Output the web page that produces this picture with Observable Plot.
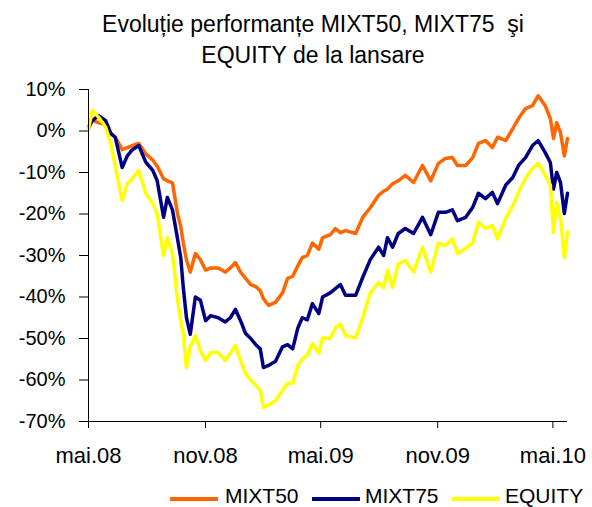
<!DOCTYPE html>
<html>
<head>
<meta charset="utf-8">
<script src="https://cdn.jsdelivr.net/npm/d3@7"></script>
<script src="https://cdn.jsdelivr.net/npm/@observablehq/plot@0.6"></script>
<style>
  html, body { margin: 0; padding: 0; background: #fff; }
  #wrap { position: relative; width: 592px; height: 507px; overflow: hidden; font-family: "Liberation Sans", Arial, sans-serif; color: #000; }
  #title { position: absolute; left: 0; top: 9px; width: 626px; text-align: center; font-size: 23px; line-height: 31px; white-space: pre; }
  #chart { position: absolute; left: 0; top: 70px; }
  .leg-sw { position: absolute; height: 4px; width: 48px; top: 497px; }
  .leg-tx { position: absolute; top: 485px; font-size: 21px; line-height: 21px; white-space: nowrap; }
</style>
</head>
<body>
<div id="wrap">
  <div id="title">Evoluție performanțe MIXT50, MIXT75  şi
EQUITY de la lansare</div>
  <div id="chart"></div>
</div>
<script>
// days since launch (2008-05-01)
const days = [0,6,16,27,35,42,53,61,69,79,90,101,108,118,124,132,140,145,149,154,160,168,176,184,192,204,215,223,231,239,247,255,263,270,275,283,294,305,313,321,329,336,344,352,362,368,380,388,396,404,420,431,443,456,464,470,478,487,498,511,525,538,550,561,572,580,593,604,613,624,635,643,656,667,676,687,698,707,718,726,731,736,742,748,753];

const mixt50 = [0.5,2.5,2,1.5,-0.5,-1.5,-4.5,-4,-3.5,-3,-5.5,-7,-8.5,-11.5,-12,-12.5,-20,-23,-27,-31,-34,-29.5,-31,-33.5,-33,-33,-34,-33,-31.7,-34,-35.5,-37,-37.5,-38.5,-40.4,-42,-41.3,-39,-35.5,-35,-32.5,-30.5,-30,-27,-28.5,-25.7,-25,-23.5,-24.5,-24,-24.7,-20.8,-18.5,-15.5,-14.5,-14,-12.7,-12,-10.7,-12.4,-8.3,-12,-7.8,-6.6,-6.4,-8.3,-8.3,-6.4,-3,-2.3,-4,-1.5,-2.3,0.6,3,5.4,6.1,8.5,6.1,3,-1.8,2,-0.4,-6,-1.8];

const mixt75 = [1,2.5,3.7,2.5,-0.6,-1.5,-8.8,-6,-4.5,-3.5,-7.5,-9.5,-12,-20.8,-16,-19,-26,-30.5,-37.7,-45,-49,-40,-40.8,-45.7,-44.5,-45,-46,-45,-43,-45.7,-48.8,-50,-51.5,-52.5,-57,-56.5,-55.5,-52,-51.5,-52.5,-47.5,-45,-45.5,-41.6,-44,-40,-39,-38,-37,-39.6,-39.6,-35.3,-31,-28,-30,-25.7,-28,-24.7,-23.5,-24.7,-20.8,-25,-19.6,-19.6,-19,-21.6,-20.8,-18.4,-15,-16.3,-14.8,-17.5,-13,-11.2,-8.3,-6.4,-3.5,-2.3,-5.2,-7.6,-14,-10,-12.4,-19.9,-15];

const equity = [0.5,5,3.3,0.9,-3,-8.5,-16.7,-12.7,-11.4,-9.5,-15,-17.5,-20,-30,-25.7,-29.5,-40.8,-45.7,-49,-57,-52,-49.3,-53,-55.3,-53.4,-53.4,-55.3,-53.5,-51.7,-55.3,-58.5,-60,-61.3,-62.5,-66.6,-66,-65,-62.5,-60.8,-60.8,-56.5,-55,-54,-51.2,-53.6,-49.8,-50,-47.5,-46.5,-49.3,-49.8,-45,-39,-36.5,-37.7,-33.6,-37.7,-32,-31.2,-34,-28,-34,-27,-27.6,-26,-29.5,-28.3,-26.9,-22,-23.5,-22.8,-26,-21,-18,-14.8,-11.4,-9,-7.8,-10.7,-13,-24.4,-17.2,-21,-30.5,-24.4];

const seriesNames = ["MIXT50", "MIXT75", "EQUITY"];
const seriesColors = ["#FF6600", "#000080", "#FFFF00"];
const xTickDates = ["2008-05-01", "2008-11-01", "2009-05-01", "2009-11-01", "2010-05-01"];
const xTickLabels = ["mai.08", "nov.08", "mai.09", "nov.09", "mai.10"];
const yTicks = [10, 0, -10, -20, -30, -40, -50, -60, -70];
const launchDate = "2008-05-01";
const endDate = "2010-05-24";

const start = new Date(launchDate + "T00:00:00Z");
const toDate = d => new Date(start.getTime() + d * 864e5);
const allSeries = [mixt50, mixt75, equity];
const rows = [];
allSeries.forEach((vals, s) => {
  vals.forEach((v, i) => rows.push({ date: toDate(days[i]), series: seriesNames[s], value: v }));
});
const tickDates = xTickDates.map(s => new Date(s + "T00:00:00Z"));
const xDomain = [start, new Date(endDate + "T00:00:00Z")];

const chart = Plot.plot({
  width: 592,
  height: 405,
  marginTop: 19,
  marginBottom: 54,
  marginLeft: 88,
  marginRight: 25,
  style: { fontFamily: "'Liberation Sans', Arial, sans-serif", fontSize: "20px", color: "#000", background: "#fff" },
  x: {
    type: "utc",
    domain: xDomain,
    ticks: tickDates,
    tickFormat: d => xTickLabels[tickDates.findIndex(t => t.getTime() === d.getTime())],
    tickSize: 7,
    tickPadding: 19,
    label: null
  },
  y: {
    domain: [-70, 10],
    ticks: yTicks,
    tickFormat: d => `${d}%`,
    tickSize: 9,
    tickPadding: 14,
    label: null
  },
  color: { domain: seriesNames, range: seriesColors },
  marks: [
    Plot.lineY(rows, { x: "date", y: "value", z: "series", stroke: "series", strokeWidth: 3.5, strokeLinejoin: "round" }),
    Plot.ruleX([xDomain[0]], { stroke: "#000", strokeWidth: 1 }),
    Plot.ruleY([-70], { stroke: "#000", strokeWidth: 1 })
  ]
});
document.getElementById("chart").appendChild(chart);
// larger x-axis labels as in the reference
chart.querySelectorAll("g[aria-label='x-axis tick label'] text").forEach(t => t.style.fontSize = "22px");

// legend
const wrap = document.getElementById("wrap");
const swatchLeft = [170, 312, 452];
const textLeft = [225, 365, 505];
seriesNames.forEach((name, i) => {
  const sw = document.createElement("div");
  sw.className = "leg-sw";
  sw.style.left = swatchLeft[i] + "px";
  sw.style.background = seriesColors[i];
  wrap.appendChild(sw);
  const tx = document.createElement("div");
  tx.className = "leg-tx";
  tx.style.left = textLeft[i] + "px";
  tx.textContent = name;
  wrap.appendChild(tx);
});
</script>
</body>
</html>
